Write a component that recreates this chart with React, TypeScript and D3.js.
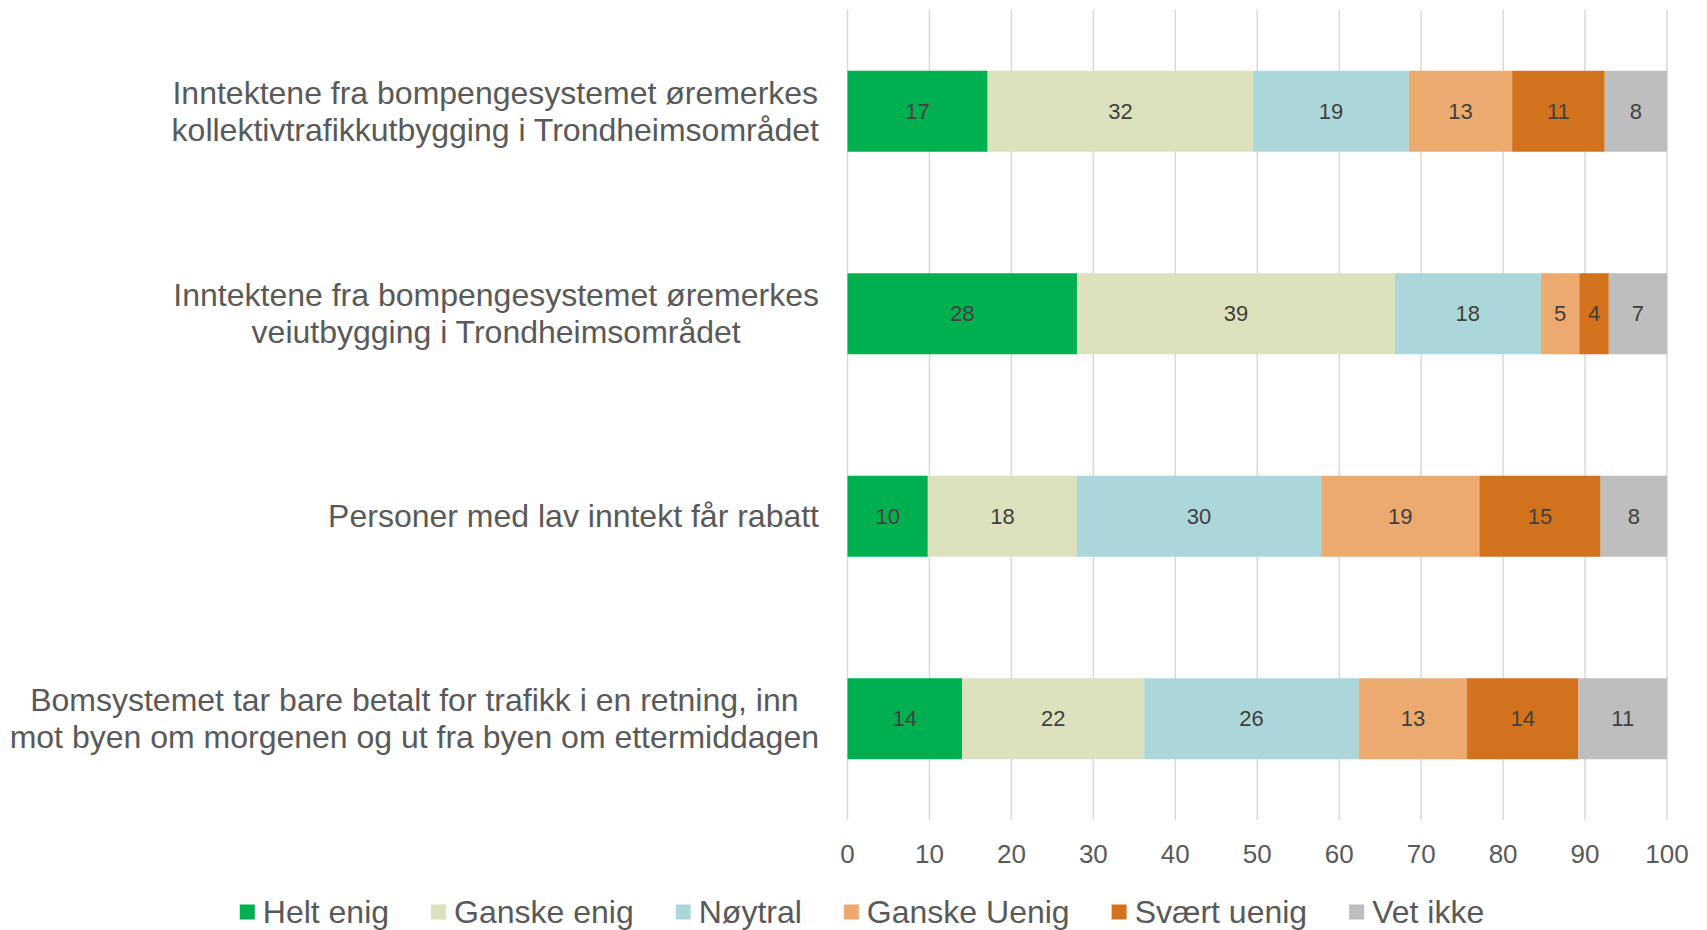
import { useEffect, useRef } from 'react';
import * as d3 from 'd3';

const categories = [
  ['Inntektene fra bompengesystemet øremerkes', 'kollektivtrafikkutbygging i Trondheimsområdet'],
  ['Inntektene fra bompengesystemet øremerkes', 'veiutbygging i Trondheimsområdet'],
  ['Personer med lav inntekt får rabatt'],
  ['Bomsystemet tar bare betalt for trafikk i en retning, inn', 'mot byen om morgenen og ut fra byen om ettermiddagen'],
];

const seriesNames = ['Helt enig', 'Ganske enig', 'Nøytral', 'Ganske Uenig', 'Svært uenig', 'Vet ikke'];
const seriesColors = ['#00b050', '#dde1bd', '#acd7da', '#ecaa6f', '#d3721c', '#bebebe'];

const heltEnig = [17.1, 28.0, 9.8, 14.0];
const ganskeEnig = [32.4, 38.8, 18.2, 22.2];
const noytral = [19.0, 17.8, 29.8, 26.2];
const ganskeUenig = [12.6, 4.7, 19.3, 13.2];
const svaertUenig = [11.3, 3.6, 14.8, 13.6];
const vetIkke = [7.6, 7.1, 8.1, 10.8];

const xTicks = [0, 10, 20, 30, 40, 50, 60, 70, 80, 90, 100];

const W = 1707;
const H = 930;
const FONT = '"Liberation Sans", Arial, sans-serif';

const App = () => {
  const svgRef = useRef(null);

  useEffect(() => {
    const svg = d3.select(svgRef.current);
    svg.selectAll('*').remove();

    const keys = seriesNames;
    const cols = [heltEnig, ganskeEnig, noytral, ganskeUenig, svaertUenig, vetIkke];
    const rows = categories.map((c, i) => {
      const r: any = { idx: i };
      keys.forEach((k, j) => { r[k] = cols[j][i]; });
      return r;
    });

    const x = d3.scaleLinear().domain([0, 100]).range([847.5, 1667]);
    const y = d3.scaleBand()
      .domain(categories.map((_, i) => String(i)))
      .range([10, 820])
      .paddingInner(0.6)
      .paddingOuter(0.3);

    // gridlines
    svg.append('g')
      .selectAll('line')
      .data(xTicks)
      .join('line')
      .attr('x1', d => x(d))
      .attr('x2', d => x(d))
      .attr('y1', 10)
      .attr('y2', 820)
      .attr('stroke', '#d9d9d9')
      .attr('stroke-width', 1.5);

    const stacked = d3.stack().keys(keys)(rows);

    const layers = svg.append('g')
      .selectAll('g')
      .data(stacked)
      .join('g')
      .attr('fill', (_, i) => seriesColors[i]);

    layers.selectAll('rect')
      .data(d => d)
      .join('rect')
      .attr('x', d => x(d[0]))
      .attr('width', d => x(d[1]) - x(d[0]))
      .attr('y', (d: any) => y(String(d.data.idx)))
      .attr('height', y.bandwidth());

    layers.selectAll('text')
      .data(d => d)
      .join('text')
      .attr('x', d => (x(d[0]) + x(d[1])) / 2)
      .attr('y', (d: any) => y(String(d.data.idx)) + y.bandwidth() / 2)
      .attr('dy', '0.35em')
      .attr('text-anchor', 'middle')
      .attr('fill', '#404040')
      .attr('font-family', FONT)
      .attr('font-size', 22)
      .text(d => Math.round(d[1] - d[0]));

    // x tick labels
    svg.append('g')
      .selectAll('text')
      .data(xTicks)
      .join('text')
      .attr('x', d => x(d))
      .attr('y', 863)
      .attr('text-anchor', 'middle')
      .attr('fill', '#595959')
      .attr('font-family', FONT)
      .attr('font-size', 26)
      .text(d => d);

    // category labels: lines centred on each other, block right-aligned
    const right = 819;
    const lineH = 37;
    categories.forEach((lines, i) => {
      const cy = y(String(i)) + y.bandwidth() / 2;
      const g = svg.append('g');
      const texts = g.selectAll('text')
        .data(lines)
        .join('text')
        .attr('y', (_, k) => cy + (k - (lines.length - 1) / 2) * lineH)
        .attr('dy', '0.35em')
        .attr('text-anchor', 'middle')
        .attr('fill', '#595959')
        .attr('font-family', FONT)
        .attr('font-size', 32)
        .text(d => d);
      let maxW = 0;
      texts.each(function () { maxW = Math.max(maxW, (this as SVGTextElement).getComputedTextLength()); });
      texts.attr('x', right - maxW / 2);
    });

    // legend
    const legend = svg.append('g');
    const sq = 15;
    const gap = 8;
    const itemGap = 42;
    let cx = 0;
    seriesNames.forEach((name, i) => {
      const item = legend.append('g').attr('transform', `translate(${cx},0)`);
      item.append('rect')
        .attr('x', 0)
        .attr('y', 912 - sq / 2)
        .attr('width', sq)
        .attr('height', sq)
        .attr('fill', seriesColors[i]);
      const t = item.append('text')
        .attr('x', sq + gap)
        .attr('y', 912)
        .attr('dy', '0.35em')
        .attr('fill', '#595959')
        .attr('font-family', FONT)
        .attr('font-size', 32)
        .text(name);
      cx += sq + gap + (t.node() as SVGTextElement).getComputedTextLength() + itemGap;
    });
    const total = cx - itemGap;
    legend.attr('transform', `translate(${862 - total / 2},0)`);
  }, []);

  return (
    <svg
      ref={svgRef}
      width={W}
      height={H}
      style={{ position: 'absolute', left: 0, top: 0, background: '#fff' }}
    ></svg>
  );
};

export default App;
